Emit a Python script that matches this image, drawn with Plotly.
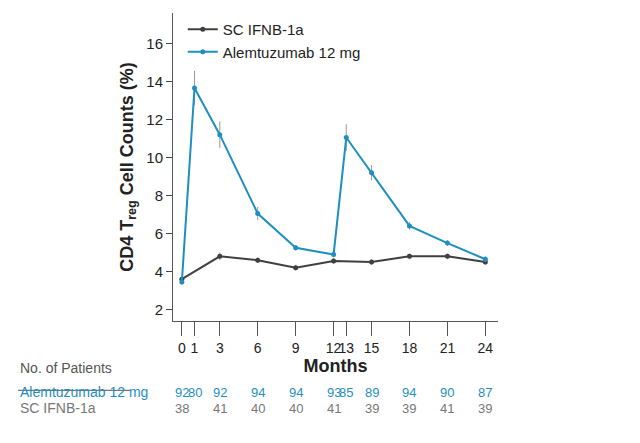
import plotly.graph_objects as go

months_alem = [0, 1, 3, 6, 9, 12, 13, 15, 18, 21, 24]
alem_vals = [3.45, 13.65, 11.2, 7.05, 5.25, 4.9, 11.05, 9.2, 6.4, 5.5, 4.65]
alem_err = [0.15, 0.9, 0.7, 0.35, 0.15, 0.15, 0.7, 0.4, 0.2, 0.15, 0.15]
months_ifnb = [0, 3, 6, 9, 12, 15, 18, 21, 24]
ifnb_vals = [3.6, 4.8, 4.6, 4.2, 4.55, 4.5, 4.8, 4.8, 4.5]
ifnb_err = [0.15, 0.2, 0.15, 0.15, 0.15, 0.15, 0.15, 0.15, 0.15]
n_alem = [92, 80, 92, 94, 94, 93, 85, 89, 94, 90, 87]
n_ifnb = [38, 41, 40, 40, 41, 39, 39, 41, 39]
tick_vals = [0, 1, 3, 6, 9, 12, 13, 15, 18, 21, 24]

blue = "#1f8fc0"
dark = "#404040"
grey = "#555555"
light = "#777777"

fig = go.Figure()
fig.add_trace(go.Scatter(x=months_ifnb, y=ifnb_vals, name="SC IFNB-1a", mode="lines+markers",
                         line=dict(color=dark, width=2), marker=dict(size=5, color=dark),
                         error_y=dict(array=ifnb_err, color="#999999", thickness=1, width=0)))
fig.add_trace(go.Scatter(x=months_alem, y=alem_vals, name="Alemtuzumab 12 mg", mode="lines+markers",
                         line=dict(color=blue, width=2), marker=dict(size=5, color=blue),
                         error_y=dict(array=alem_err, color="#999999", thickness=1, width=0)))

font = "Liberation Sans, Arial"
lx = -0.477
ann = [dict(text="No. of Patients", xref="paper", yref="paper", x=lx, y=-0.185, xanchor="left",
            showarrow=False, font=dict(size=14, color=grey)),
       dict(text="Alemtuzumab 12 mg", xref="paper", yref="paper", x=lx, y=-0.263, xanchor="left",
            showarrow=False, font=dict(size=14, color=blue)),
       dict(text="SC IFNB-1a", xref="paper", yref="paper", x=lx, y=-0.315, xanchor="left",
            showarrow=False, font=dict(size=14, color=light))]
for m, n in zip(months_alem, n_alem):
    ann.append(dict(text=str(n), x=m, xref="x", yref="paper", y=-0.263, showarrow=False,
                    font=dict(size=13, color=blue)))
for m, n in zip(months_ifnb, n_ifnb):
    ann.append(dict(text=str(n), x=m, xref="x", yref="paper", y=-0.315, showarrow=False,
                    font=dict(size=13, color=light)))

fig.update_layout(
    width=640, height=443, plot_bgcolor="white", paper_bgcolor="white",
    margin=dict(l=165, r=150, t=5, b=130),
    font=dict(family=font, size=15, color="#222222"),
    xaxis=dict(range=[-0.7, 25], tickvals=tick_vals, tickangle=0, tickfont=dict(size=14),
               showline=True, linecolor="#555",
               ticks="outside", ticklen=14, tickcolor="#555", showgrid=False, zeroline=False,
               title=dict(text="<b>Months</b>", standoff=0)),
    yaxis=dict(range=[1.4, 17.6], tickvals=[2, 4, 6, 8, 10, 12, 14, 16], showline=True,
               linecolor="#555", ticks="outside", ticklen=6, showgrid=False, zeroline=False,
               title=dict(text="<b>CD4 T<sub>reg</sub> Cell Counts (%)</b>", standoff=8)),
    legend=dict(x=0.03, y=1.0, bgcolor="rgba(0,0,0,0)", font=dict(size=15)),
    annotations=ann,
)
fig.add_shape(type="line", xref="paper", yref="paper", x0=lx, x1=-0.132, y0=-0.225, y1=-0.225,
              line=dict(color="#555", width=1))
fig.write_html("out.html")
